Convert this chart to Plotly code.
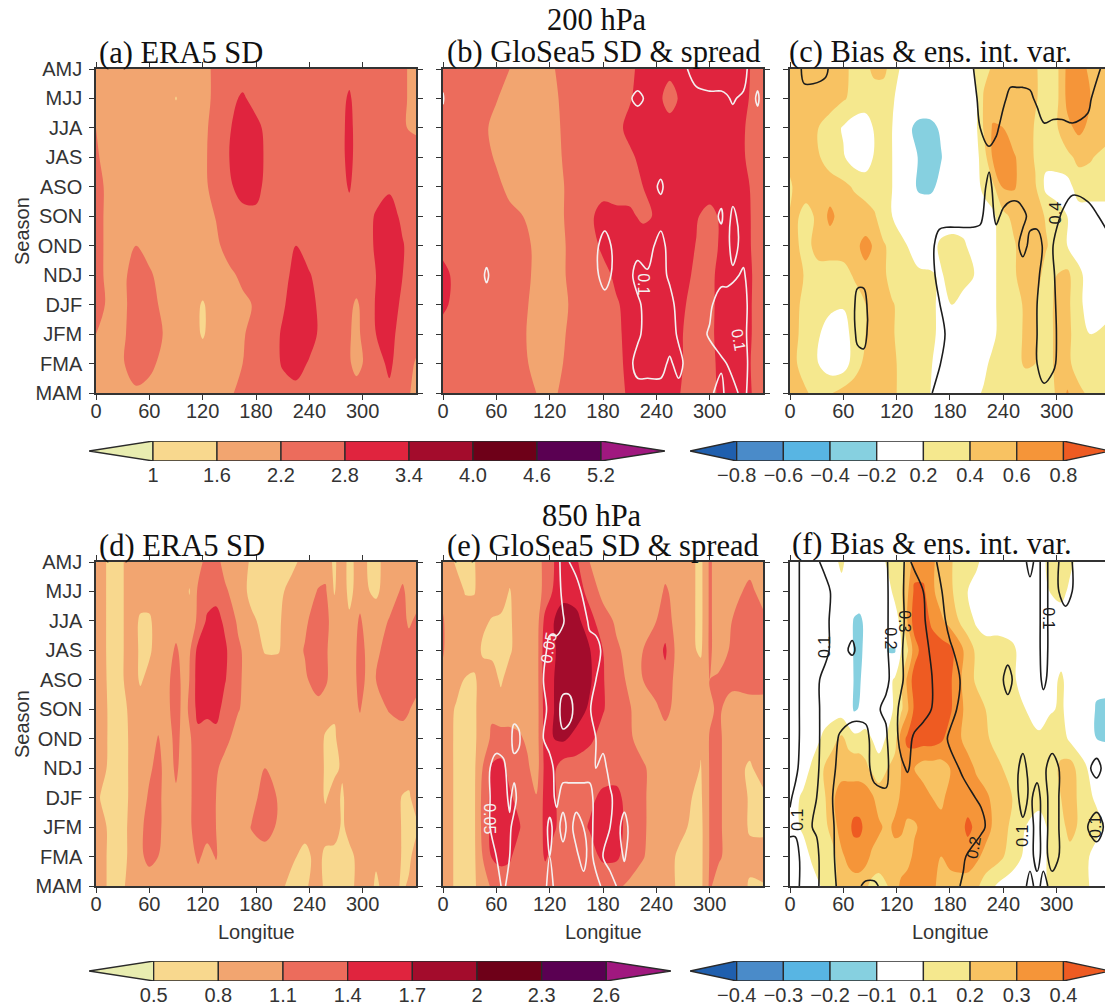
import plotly.graph_objects as go

seasons = ["AMJ","MJJ","JJA","JAS","ASO","SON","OND","NDJ","DJF","JFM","FMA","MAM"]
lon_ticks = [0,60,120,180,240,300]

levels_200_sd = ["1","1.6","2.2","2.8","3.4","4.0","4.6","5.2"]
levels_850_sd = ["0.5","0.8","1.1","1.4","1.7","2","2.3","2.6"]
levels_200_bias = ["−0.8","−0.6","−0.4","−0.2","0.2","0.4","0.6","0.8"]
levels_850_bias = ["−0.4","−0.3","−0.2","−0.1","0.1","0.2","0.3","0.4"]

sd_colors = ["#e8edb0","#f8d88e","#f2a570","#ec6c5c","#e0243e","#a30c2c","#6e0018","#5a0052","#a0187f"]
bias_colors = ["#1f5fae","#4a8bc9","#58b5e3","#86d0e0","#ffffff","#ffffff","#f5e88e","#f8c262","#f59539","#ee5b22"]

# (a) 200 hPa ERA5 SD
a_lon = [0,15,30,45,60,75,90,105,120,135,150,165,180,195,210,225,240,255,270,285,293,300,315,330,345,360]
a_z = [
[1.9,1.9,1.9,1.9,1.9,1.9,1.9,1.9,2.05,2.3,2.45,2.5,2.5,2.5,2.5,2.5,2.5,2.5,2.5,2.6,2.5,2.5,2.5,2.5,2.3,2.0],
[1.9,1.9,1.9,1.9,1.9,1.9,1.58,1.9,2.05,2.3,2.65,2.88,2.6,2.5,2.5,2.5,2.5,2.5,2.5,2.88,2.6,2.5,2.5,2.5,2.3,2.0],
[2.2,1.9,1.9,1.9,1.9,1.9,1.9,1.9,2.1,2.35,2.75,3.1,2.95,2.6,2.5,2.5,2.5,2.5,2.5,2.95,2.65,2.5,2.5,2.5,2.25,2.1],
[2.3,1.9,1.9,1.9,1.9,1.9,1.9,1.9,2.1,2.4,2.8,3.15,3.05,2.6,2.5,2.5,2.5,2.5,2.5,2.95,2.65,2.5,2.5,2.5,2.5,2.5],
[2.4,2.05,1.9,1.9,1.9,1.9,1.9,1.9,2.1,2.35,2.7,3.05,2.95,2.6,2.5,2.5,2.25,2.5,2.5,2.85,2.6,2.5,2.6,2.7,2.5,2.5],
[2.45,2.0,1.9,1.9,1.9,1.9,1.9,1.9,2.0,2.22,2.5,2.6,2.7,2.55,2.5,2.5,2.5,2.5,2.5,2.6,2.55,2.55,2.85,3.1,2.65,2.45],
[2.45,2.0,1.9,2.2,1.95,1.9,1.9,1.9,1.9,2.1,2.4,2.5,2.5,2.5,2.55,2.8,2.5,2.5,2.5,2.5,2.5,2.6,2.85,3.2,2.85,2.4],
[2.45,2.0,2.05,2.5,2.3,1.95,1.9,1.9,1.9,1.95,2.1,2.3,2.5,2.55,2.65,2.95,2.85,2.5,2.5,2.5,2.45,2.5,2.8,3.1,2.8,2.4],
[2.5,2.05,2.05,2.5,2.5,2.05,1.9,1.85,1.55,1.85,1.95,2.1,2.25,2.5,2.75,3.0,3.0,2.6,2.5,2.3,2.13,2.3,2.85,3.05,2.7,2.4],
[2.2,1.95,2.1,2.5,2.55,2.2,1.9,1.85,1.55,1.85,1.95,2.15,2.4,2.6,2.85,3.1,3.0,2.65,2.5,2.25,2.05,2.3,2.8,3.0,2.55,2.4],
[2.0,1.9,2.15,2.5,2.4,2.0,1.9,1.9,1.85,1.9,2.05,2.2,2.45,2.55,2.85,3.0,2.75,2.5,2.45,2.25,2.05,2.2,2.6,2.9,2.5,2.15],
[1.9,1.9,1.9,2.1,1.95,1.9,1.9,1.9,1.9,2.0,2.15,2.3,2.45,2.5,2.6,2.65,2.55,2.5,2.5,2.45,2.4,2.45,2.55,2.7,2.4,2.05],
]

# (b) 200 hPa GloSea5 SD
b_lon = [0,8,15,30,45,60,75,90,105,120,135,150,165,180,195,210,225,240,255,270,285,300,315,330,345,352,360]
b_z = [
[2.4,2.4,2.45,2.5,2.5,2.4,2.2,1.95,1.95,2.1,2.35,2.45,2.5,2.55,2.6,2.7,2.95,3.0,3.0,3.1,3.1,3.1,3.1,3.1,2.82,2.5,2.4],
[2.4,2.45,2.5,2.45,2.35,2.23,2.0,1.9,1.9,2.0,2.3,2.45,2.5,2.55,2.6,2.75,3.05,3.05,2.5,3.0,3.1,3.15,3.15,3.1,2.78,2.5,2.4],
[2.4,2.45,2.5,2.45,2.3,2.05,1.95,1.9,1.9,2.0,2.25,2.4,2.45,2.5,2.65,2.95,3.05,3.1,3.1,3.1,3.1,3.1,3.1,3.0,2.7,2.5,2.4],
[2.4,2.45,2.5,2.45,2.35,2.15,1.95,1.9,1.9,2.0,2.22,2.4,2.45,2.5,2.6,2.7,2.95,3.1,3.1,3.1,3.1,3.1,3.1,3.0,2.7,2.5,2.4],
[2.45,2.45,2.5,2.45,2.4,2.3,2.1,1.95,1.9,2.0,2.18,2.4,2.5,2.6,2.55,2.6,2.8,3.0,3.1,3.1,3.1,3.1,3.1,3.05,2.8,2.5,2.45],
[2.5,2.5,2.5,2.5,2.45,2.4,2.3,2.2,1.95,1.95,2.18,2.45,2.7,3.0,2.95,2.9,2.7,2.85,3.1,3.1,2.85,2.6,2.95,3.1,2.85,2.55,2.45],
[2.6,2.5,2.5,2.5,2.5,2.45,2.4,2.35,2.1,1.95,2.15,2.4,2.6,2.9,3.0,3.1,3.1,3.1,3.1,3.0,2.78,2.55,2.95,3.1,2.85,2.6,2.45],
[3.0,2.8,2.5,2.5,2.5,2.45,2.4,2.35,2.1,1.95,2.15,2.4,2.5,2.65,2.9,3.1,3.1,3.1,3.1,2.95,2.7,2.55,3.2,3.1,2.9,2.65,2.6],
[2.95,2.75,2.5,2.5,2.5,2.45,2.4,2.3,2.05,1.95,2.1,2.35,2.45,2.55,2.75,2.95,3.1,3.1,3.05,2.85,2.62,2.62,3.1,3.1,2.9,2.6,2.55],
[2.5,2.5,2.5,2.5,2.5,2.45,2.4,2.25,2.05,1.95,2.15,2.4,2.45,2.55,2.7,2.95,3.1,3.1,3.0,2.8,2.6,2.65,3.1,3.1,2.9,2.6,2.5],
[2.45,2.5,2.5,2.5,2.5,2.45,2.4,2.3,2.05,1.95,2.2,2.4,2.45,2.5,2.65,2.95,3.1,3.1,3.0,2.8,2.6,2.6,3.05,3.1,2.85,2.55,2.5],
[2.45,2.5,2.5,2.5,2.5,2.45,2.4,2.35,2.2,2.05,2.3,2.45,2.5,2.5,2.6,2.9,3.1,3.1,3.0,2.75,2.6,2.6,3.0,3.1,2.9,2.6,2.5],
]
b_spread_lon = [0,4,40,49,58,168,182,196,208,219,230,245,255,265,275,285,300,313,319,326,338,345,354,360]
b_spread = [
[.08,.08,.08,.08,.08,.08,.08,.08,.08,.08,.08,.08,.08,.08,.1,.13,.13,.13,.13,.13,.13,.08,.08,.08],
[.105,.08,.08,.08,.08,.08,.08,.08,.095,.107,.095,.08,.08,.08,.08,.08,.09,.09,.095,.105,.09,.08,.107,.08],
[.08,.08,.08,.08,.08,.08,.08,.08,.08,.08,.08,.08,.08,.08,.08,.08,.08,.08,.08,.08,.08,.08,.08,.08],
[.08,.08,.08,.08,.08,.08,.08,.08,.08,.08,.08,.08,.08,.08,.08,.08,.08,.08,.08,.08,.08,.08,.08,.08],
[.08,.08,.08,.08,.08,.08,.08,.08,.08,.08,.08,.107,.08,.08,.08,.08,.08,.08,.08,.08,.08,.08,.08,.08],
[.08,.08,.08,.08,.08,.08,.08,.08,.08,.08,.08,.08,.08,.08,.08,.08,.08,.107,.08,.11,.08,.08,.08,.08],
[.08,.08,.08,.08,.08,.08,.12,.08,.08,.08,.08,.12,.08,.08,.08,.08,.08,.08,.08,.12,.08,.08,.08,.08],
[.08,.08,.08,.107,.08,.08,.12,.08,.08,.12,.105,.12,.09,.08,.08,.08,.08,.08,.08,.09,.107,.08,.08,.08],
[.08,.08,.08,.08,.08,.08,.08,.08,.08,.09,.12,.13,.12,.08,.08,.08,.09,.13,.13,.13,.13,.08,.08,.08],
[.08,.08,.08,.08,.08,.08,.08,.08,.08,.09,.12,.13,.13,.09,.08,.08,.105,.13,.13,.13,.12,.08,.08,.08],
[.08,.08,.08,.08,.08,.08,.08,.08,.08,.12,.12,.12,.09,.12,.08,.08,.08,.09,.1,.12,.12,.09,.08,.08],
[.08,.08,.08,.08,.08,.08,.08,.08,.08,.08,.08,.08,.08,.08,.08,.08,.09,.12,.08,.08,.12,.08,.08,.08],
]

# (c) 200 hPa bias
c_lon = [0,8,18,32,45,60,72,85,95,105,115,130,145,158,170,182,195,207,218,228,240,252,265,276,288,300,312,325,338,360]
c_z = [
[.5,.5,.5,.5,.5,.45,.35,.35,.45,.45,.32,.1,.05,.05,.05,.05,.1,.2,.35,.42,.5,.5,.5,.42,.32,.35,.65,.7,.55,.5],
[.5,.5,.5,.5,.5,.42,.35,.3,.3,.3,.22,.1,.05,.05,.05,.05,.05,.1,.42,.5,.5,.5,.5,.42,.32,.35,.65,.7,.6,.5],
[.5,.5,.5,.4,.3,.18,.1,.1,.22,.3,.2,-.1,-.3,-.3,-.15,.05,.05,.1,.42,.62,.6,.5,.5,.38,.3,.38,.55,.65,.55,.5],
[.5,.5,.5,.42,.3,.22,.1,.1,.22,.3,.2,0,-.22,-.3,-.22,.05,.05,.1,.3,.62,.72,.62,.5,.38,.25,.3,.35,.45,.42,.3],
[.35,.5,.5,.5,.5,.45,.38,.3,.3,.28,.2,0,-.25,-.28,-.1,.05,.05,.1,.25,.35,.62,.62,.5,.42,.15,.1,.12,.3,.3,.3],
[.42,.42,.32,.45,.65,.5,.5,.5,.42,.3,.2,.05,0,.05,.05,.05,.05,.05,.1,.15,.35,.45,.5,.5,.38,.3,.2,.1,.1,.1],
[.45,.42,.32,.5,.5,.5,.55,.65,.58,.42,.35,.22,.05,.1,.25,.3,.25,.08,.1,.15,.3,.38,.5,.5,.42,.3,.2,.1,.1,.1],
[.45,.45,.38,.3,.3,.32,.42,.55,.5,.45,.3,.3,.25,.22,.18,.28,.3,.2,.1,.15,.3,.38,.48,.5,.32,.4,.45,.25,.1,.1],
[.45,.42,.35,.3,.25,.22,.3,.4,.45,.5,.42,.3,.3,.25,.15,.2,.1,.1,.1,.15,.3,.35,.42,.42,.3,.45,.45,.25,.1,.1],
[.45,.42,.3,.22,.1,.1,.28,.4,.5,.5,.42,.3,.3,.25,.15,.1,.1,.1,.1,.15,.3,.35,.42,.42,.3,.45,.45,.3,.2,.3],
[.42,.4,.3,.2,.08,.08,.3,.45,.5,.5,.45,.3,.3,.22,.1,.1,.1,.1,.15,.25,.3,.35,.42,.4,.3,.45,.45,.3,.3,.3],
[.5,.5,.42,.32,.38,.48,.5,.5,.5,.5,.45,.3,.3,.2,.1,.1,.1,.15,.22,.28,.3,.3,.3,.3,.3,.42,.62,.45,.35,.3],
]
c_var_lon = [0,10,16,26,40,50,70,76,83,90,150,160,168,176,190,205,214,224,232,240,248,256,262,270,278,286,296,306,318,335,347,360]
c_var = [
[.35,.36,.45,.45,.42,.35,.35,.35,.35,.35,.35,.35,.35,.35,.35,.39,.45,.45,.45,.45,.45,.45,.45,.45,.45,.45,.45,.45,.45,.45,.41,.35],
[.35,.35,.35,.35,.35,.35,.35,.35,.35,.35,.35,.35,.35,.35,.35,.37,.42,.45,.45,.42,.37,.37,.37,.38,.42,.45,.45,.45,.45,.42,.36,.35],
[.35,.35,.35,.35,.35,.35,.35,.35,.35,.35,.35,.35,.35,.35,.35,.35,.4,.45,.42,.36,.35,.35,.35,.35,.35,.39,.38,.38,.39,.38,.35,.35],
[.35,.35,.35,.35,.35,.35,.35,.35,.35,.35,.35,.35,.35,.35,.35,.35,.35,.37,.35,.35,.35,.35,.35,.35,.35,.35,.35,.35,.35,.35,.35,.35],
[.35,.35,.35,.35,.35,.35,.35,.35,.35,.35,.35,.35,.35,.35,.35,.35,.35,.43,.35,.35,.35,.35,.35,.35,.35,.35,.35,.35,.38,.35,.35,.35],
[.35,.35,.35,.35,.35,.35,.35,.35,.35,.35,.35,.35,.36,.37,.37,.37,.38,.45,.38,.42,.45,.45,.42,.38,.36,.36,.36,.41,.45,.45,.4,.36],
[.35,.35,.35,.35,.35,.35,.35,.35,.35,.35,.35,.38,.45,.45,.45,.45,.45,.45,.45,.45,.45,.41,.37,.42,.45,.38,.4,.45,.45,.45,.45,.42],
[.35,.35,.35,.35,.35,.35,.35,.36,.36,.35,.35,.38,.43,.45,.45,.45,.45,.45,.45,.45,.45,.45,.45,.45,.42,.36,.39,.45,.45,.45,.45,.45],
[.35,.35,.35,.35,.35,.35,.35,.45,.45,.35,.35,.35,.395,.45,.45,.45,.45,.45,.45,.45,.45,.45,.45,.45,.4,.35,.38,.45,.45,.45,.45,.45],
[.35,.35,.35,.35,.35,.35,.35,.43,.45,.35,.35,.35,.36,.41,.45,.45,.45,.45,.45,.45,.45,.45,.45,.45,.4,.35,.37,.45,.45,.45,.45,.45],
[.35,.35,.35,.35,.35,.35,.35,.35,.35,.35,.35,.35,.39,.45,.45,.45,.45,.45,.45,.45,.45,.45,.45,.45,.4,.36,.38,.45,.45,.45,.45,.45],
[.35,.35,.35,.35,.35,.35,.35,.35,.35,.35,.36,.4,.45,.45,.45,.45,.45,.45,.45,.45,.45,.45,.45,.45,.45,.42,.45,.45,.45,.45,.45,.45],
]

# (d) 850 hPa ERA5 SD
d_lon = [0,6,15,30,40,50,60,70,80,90,100,105,115,125,135,145,160,175,190,205,220,235,250,258,268,277,285,297,305,315,330,345,352,360]
d_z = [
[.95,.95,.7,.78,.95,.95,.95,.95,.95,.95,.95,.95,1.0,1.2,1.2,1.0,.95,.76,.7,.7,.72,.9,.95,.95,.75,.95,.7,.95,.8,.72,.95,.95,.95,.95],
[.95,.95,.7,.78,.95,.95,.95,.95,.95,.95,.95,.78,1.15,1.25,1.3,1.15,.95,.72,.7,.72,.9,.95,1.12,1.15,.78,.95,.72,.95,.82,.75,.95,1.15,1.0,.95],
[.95,.95,.7,.78,.95,.75,.75,.95,.95,.95,.95,.95,1.15,1.45,1.5,1.35,1.05,.85,.72,.76,.95,1.05,1.25,1.2,.95,.95,.85,1.15,.95,.95,1.12,1.2,1.05,1.15],
[1.0,.95,.7,.78,.95,.75,.75,.95,.95,1.15,.95,1.05,1.5,1.6,1.6,1.45,1.15,.95,.78,.78,.95,1.12,1.25,1.15,.95,.95,.9,1.2,1.05,1.05,1.2,1.25,1.25,1.2],
[.95,.95,.72,.78,.95,.76,.9,.95,1.05,1.2,1.0,1.1,1.55,1.6,1.6,1.42,1.15,.95,.95,.95,.95,1.05,1.25,1.15,.95,.95,.9,1.2,1.05,1.1,1.25,1.25,1.25,1.25],
[.95,.95,.75,.75,.85,.95,.95,.95,1.05,1.2,1.0,1.15,1.5,1.45,1.5,1.3,1.12,.95,.95,.95,.95,.95,.98,.95,.85,.95,.95,1.12,.95,1.0,1.12,1.2,1.12,1.0],
[.95,.95,.75,.72,.85,.95,.95,1.12,.95,1.2,.95,1.05,1.3,1.3,1.3,1.2,.95,.95,.95,.95,.95,.95,.95,.76,.75,.95,.95,.95,.95,.95,.95,.95,.95,.95],
[.95,.95,.72,.72,.85,.95,1.05,1.2,.95,1.15,.95,1.05,1.25,1.25,1.15,.98,.95,.95,1.1,.98,.95,.95,.95,.76,.72,.85,.95,.95,.95,.95,.95,.95,.95,.95],
[.95,.75,.72,.72,.85,.95,1.15,1.18,.95,1.05,.95,1.05,1.25,1.22,1.1,.95,.95,.98,1.25,1.08,.95,.95,.95,.76,.95,.75,.95,.95,.95,.95,.95,.78,.75,.95],
[.95,.95,.72,.75,.85,1.05,1.2,1.18,.95,.95,.95,1.05,1.25,1.22,1.1,.95,.95,1.12,1.25,1.05,.95,.9,.85,.95,.95,.75,.9,.95,.95,.95,.95,.78,.72,.72],
[.95,.95,.72,.75,.85,1.05,1.18,1.1,.95,.95,.95,.98,1.15,1.0,1.12,.95,.95,.95,.95,.95,.85,.72,.9,.72,.7,.7,.72,.9,.95,.85,.95,.78,.72,.95],
[.95,.95,.72,.75,.95,.95,.95,.95,.95,.95,.95,.95,.95,.95,.95,.95,.95,.95,.95,.88,.72,.75,.95,.72,.7,.7,.72,.9,.95,.75,.95,.75,.85,.95],
]

# (e) 850 hPa GloSea5 SD
e_lon = [0,5,15,25,35,45,55,65,75,85,95,105,115,125,135,150,165,180,195,210,225,240,250,265,280,290,300,310,325,345,360]
e_z = [
[.95,.95,.75,.7,.78,.95,.95,.95,.95,.95,.95,.95,1.2,1.4,1.55,1.45,1.1,.95,.95,.95,.95,.95,.95,.95,.85,.72,1.15,.95,.95,.95,.95],
[.95,.95,.95,.78,.78,.95,.95,.95,.78,.95,.95,.95,1.2,1.45,1.6,1.55,1.3,1.0,.95,.95,.95,.95,1.15,.95,.85,.72,1.15,.95,.95,1.2,.95],
[1.15,.95,.95,.95,.95,.85,.78,.75,.75,.95,.95,.95,1.5,1.7,1.85,1.8,1.5,1.25,1.05,.95,.95,1.1,1.25,.95,.85,.72,1.15,.95,1.1,1.25,1.2],
[1.15,.95,.95,.95,.95,.75,.72,.72,.75,.95,.95,.95,1.6,1.65,1.9,1.9,1.72,1.4,1.15,1.0,1.1,1.25,1.45,.95,.85,.75,1.15,.95,1.15,1.25,1.25],
[.95,.95,.95,.78,.75,.95,.95,.75,.95,.95,.95,.95,1.6,1.7,1.9,1.95,1.75,1.42,1.2,1.05,1.1,1.25,1.3,.95,.95,.95,1.1,1.15,1.2,1.25,1.25],
[.95,.95,.75,.72,.75,.95,1.05,.95,.95,.95,.95,.95,1.55,1.7,1.85,1.85,1.65,1.42,1.25,1.12,.95,1.05,1.2,.95,.95,.95,1.05,1.15,.95,.95,.95],
[.95,.95,.72,.7,.75,.95,1.15,1.2,1.2,1.15,1.05,.95,1.55,1.7,1.75,1.6,1.45,1.3,1.25,1.15,.95,.95,.95,.95,.95,.85,1.12,1.15,.95,.95,.95],
[.95,.95,.72,.7,.75,1.12,1.45,1.5,1.3,1.2,1.15,.95,1.5,1.45,1.25,1.25,1.25,1.3,1.25,1.2,1.15,.95,.95,.95,.95,.78,1.12,1.15,.95,.75,.95],
[.95,.95,.72,.7,.75,1.2,1.5,1.55,1.45,1.3,1.2,1.12,1.5,1.45,1.25,1.25,1.35,1.45,1.5,1.25,1.15,.95,.95,.95,.8,.75,1.12,1.15,.95,.78,.72],
[.95,.95,.72,.7,.75,1.2,1.5,1.6,1.55,1.45,1.2,1.15,1.5,1.45,1.25,1.3,1.42,1.55,1.5,1.3,1.15,.95,.95,.9,.75,.72,1.12,1.15,.95,.78,.72],
[.95,.95,.72,.7,.75,1.12,1.42,1.5,1.45,1.25,1.2,1.15,1.45,1.25,1.25,1.25,1.3,1.45,1.45,1.25,1.12,.95,.95,.75,.72,.72,1.12,1.15,.95,.85,.95],
[.95,.95,.72,.7,.76,.95,1.15,1.2,1.2,1.2,1.2,1.15,1.15,1.15,1.15,1.15,1.15,1.2,1.15,1.05,.95,.95,.95,.75,.72,.72,1.15,.95,.95,.78,.78],
]
e_spread_lon = [0,45,53,60,68,75,80,85,90,105,113,120,128,135,142,150,158,165,172,180,188,195,204,212,360]
e_spread = [
[.04,.04,.04,.04,.04,.04,.04,.04,.04,.04,.04,.04,.04,.06,.05,.04,.04,.04,.04,.04,.04,.04,.04,.04,.04],
[.04,.04,.04,.04,.04,.04,.04,.04,.04,.04,.04,.04,.04,.055,.06,.06,.045,.04,.04,.04,.04,.04,.04,.04,.04],
[.04,.04,.04,.04,.04,.04,.04,.04,.04,.04,.04,.04,.04,.048,.06,.06,.06,.045,.04,.04,.04,.04,.04,.04,.04],
[.04,.04,.04,.04,.04,.04,.04,.04,.04,.04,.04,.06,.06,.06,.06,.06,.06,.06,.06,.045,.04,.04,.04,.04,.04],
[.04,.04,.04,.04,.04,.04,.04,.04,.04,.04,.05,.06,.06,.06,.06,.06,.06,.06,.05,.04,.04,.04,.04,.04,.04],
[.04,.04,.04,.04,.04,.04,.04,.04,.04,.04,.04,.06,.06,.04,.04,.06,.06,.052,.04,.04,.04,.04,.04,.04,.04],
[.04,.04,.04,.04,.04,.04,.06,.055,.04,.04,.05,.06,.06,.055,.06,.06,.06,.06,.05,.04,.04,.04,.04,.04,.04],
[.04,.04,.05,.06,.055,.04,.04,.04,.04,.04,.04,.04,.06,.06,.06,.06,.06,.06,.05,.06,.04,.04,.04,.04,.04],
[.04,.04,.05,.06,.06,.045,.06,.04,.04,.04,.04,.04,.055,.04,.04,.04,.04,.04,.06,.06,.055,.04,.04,.04,.04],
[.04,.04,.05,.06,.06,.055,.04,.04,.04,.04,.04,.055,.04,.06,.04,.06,.05,.04,.06,.06,.05,.04,.06,.04,.04],
[.04,.04,.04,.05,.06,.05,.04,.04,.04,.04,.04,.05,.04,.04,.04,.045,.06,.04,.06,.05,.04,.04,.052,.04,.04],
[.04,.04,.04,.04,.055,.04,.04,.04,.04,.04,.04,.06,.04,.04,.04,.04,.04,.04,.04,.055,.06,.05,.04,.04,.04],
]

# (f) 850 hPa bias
f_lon = [0,15,25,38,48,58,66,72,78,85,92,100,110,118,125,132,140,150,160,170,180,190,200,210,220,235,250,265,280,292,305,315,330,345,360]
f_z = [
[.05,.05,.05,.05,.05,.13,.05,.05,.05,.05,.05,.05,.12,.15,.15,.22,.35,.35,.32,.25,.22,.15,.14,.12,.05,.05,.05,.05,.05,.13,.15,.12,.05,.05,.05],
[.05,.05,.05,.05,.05,.05,.05,.05,.05,.05,.05,.05,.06,.13,.18,.28,.42,.42,.32,.25,.22,.16,.1,.05,.05,.05,.05,.05,.05,.1,.13,.08,.05,.05,.05],
[.05,.05,.05,.05,.05,.05,0,-.12,-.15,-.05,.05,.05,.05,.05,.13,.3,.45,.45,.38,.32,.26,.2,.15,.08,.05,.05,.05,.05,.05,.05,.05,.05,.05,.05,.05],
[.05,.05,.05,.05,.05,.05,0,-.12,-.15,-.05,.05,.05,-.11,-.12,.1,.18,.35,.45,.45,.45,.43,.35,.25,.18,.15,.15,.12,.05,.05,.05,.05,.05,.05,.05,.05],
[.05,.05,.05,.05,.05,.05,0,-.11,-.13,0,.05,.05,.05,.12,.18,.32,.45,.45,.45,.45,.42,.32,.25,.18,.15,.18,.12,.05,.05,.05,.12,.05,.05,-.05,-.02],
[.05,.05,.05,.05,.05,.05,0,-.12,-.09,0,.05,.05,.05,.12,.18,.28,.42,.45,.45,.45,.42,.32,.28,.25,.2,.15,.15,.1,.05,.08,.12,.05,.05,-.12,-.15],
[.05,.05,.05,.12,.17,.22,.17,.15,.15,.15,.1,.05,.12,.15,.35,.42,.45,.45,.45,.42,.35,.32,.25,.25,.22,.15,.15,.1,.12,.18,.15,.08,.05,-.1,-.12],
[.05,.05,.12,.2,.25,.25,.25,.25,.25,.22,.18,.15,.2,.25,.3,.35,.3,.25,.25,.25,.3,.35,.35,.28,.25,.22,.15,.1,.12,.15,.22,.25,.12,.05,.05],
[.05,.12,.12,.18,.28,.36,.36,.36,.36,.36,.32,.25,.25,.25,.32,.35,.38,.35,.3,.28,.33,.36,.36,.36,.32,.25,.2,.15,.14,.15,.2,.25,.15,.08,.05],
[.05,.12,.12,.16,.25,.35,.38,.42,.42,.38,.36,.32,.27,.33,.32,.28,.28,.34,.36,.33,.34,.36,.42,.38,.34,.25,.18,.1,.05,.12,.15,.25,.15,.14,.05],
[.05,.05,.12,.14,.16,.28,.33,.36,.36,.34,.28,.25,.25,.25,.25,.25,.33,.36,.34,.3,.34,.36,.36,.32,.27,.23,.15,.08,.05,.12,.15,.15,.14,.05,.05],
[.05,.05,.05,.12,.16,.25,.25,.25,.25,.22,.17,.16,.2,.26,.32,.36,.36,.36,.32,.27,.25,.25,.25,.22,.15,.08,.05,.05,.05,.12,.15,.15,.14,.05,.05],
]
f_var_lon = [0,6,15,30,40,48,56,70,85,95,108,115,125,132,140,150,165,180,195,215,235,245,255,262,270,278,285,295,310,325,345,360]
f_var = [
[.12,.12,.08,.09,.12,.14,.15,.15,.15,.16,.19,.23,.28,.32,.28,.24,.2,.17,.15,.14,.13,.12,.12,.12,.08,.12,.08,.12,.08,.12,.13,.13],
[.12,.12,.08,.08,.08,.11,.14,.15,.15,.16,.19,.22,.28,.33,.35,.3,.22,.17,.15,.14,.13,.12,.12,.12,.12,.12,.08,.12,.08,.12,.13,.13],
[.12,.12,.08,.08,.085,.115,.12,.12,.14,.16,.19,.22,.27,.33,.36,.31,.24,.18,.15,.14,.13,.12,.12,.12,.12,.12,.08,.12,.12,.12,.13,.13],
[.12,.12,.08,.08,.085,.115,.12,.09,.14,.16,.19,.22,.29,.33,.35,.33,.26,.21,.17,.14,.13,.12,.12,.12,.12,.12,.08,.12,.12,.12,.13,.13],
[.12,.12,.08,.09,.12,.13,.14,.15,.16,.18,.19,.21,.28,.34,.36,.34,.28,.23,.19,.14,.12,.08,.12,.12,.12,.12,.09,.12,.12,.12,.13,.13],
[.12,.12,.08,.09,.12,.14,.16,.17,.18,.19,.21,.24,.33,.36,.37,.33,.28,.22,.18,.14,.13,.12,.12,.12,.12,.12,.12,.12,.12,.12,.13,.13],
[.12,.12,.08,.09,.12,.17,.21,.24,.22,.17,.19,.24,.33,.34,.28,.26,.24,.19,.16,.14,.13,.12,.12,.12,.12,.12,.12,.12,.12,.12,.12,.12],
[.12,.11,.08,.09,.13,.18,.23,.24,.22,.18,.18,.23,.28,.31,.27,.25,.24,.22,.19,.16,.13,.12,.11,.08,.12,.12,.11,.08,.12,.12,.09,.12],
[.105,.09,.08,.1,.14,.2,.23,.24,.24,.22,.21,.22,.23,.24,.25,.25,.24,.23,.22,.19,.13,.12,.11,.08,.11,.08,.12,.08,.12,.12,.12,.12],
[.09,.09,.09,.105,.15,.19,.24,.25,.25,.25,.25,.25,.24,.24,.25,.25,.25,.25,.24,.22,.13,.12,.12,.11,.12,.08,.12,.08,.12,.12,.08,.12],
[.12,.12,.08,.09,.13,.19,.23,.25,.25,.25,.25,.25,.25,.25,.25,.25,.24,.23,.21,.14,.13,.12,.12,.12,.12,.08,.12,.08,.12,.12,.12,.12],
[.12,.12,.08,.09,.13,.18,.22,.22,.19,.19,.22,.24,.25,.25,.25,.25,.24,.23,.19,.14,.13,.12,.12,.12,.08,.12,.08,.12,.12,.12,.12,.12],
]

W, H = 1105, 1006
def px_x(x): return x / W
def px_y(y): return 1 - y / H

axis_font = dict(family="Liberation Sans, Arial, sans-serif", size=20, color="#333333")
serif = "Liberation Serif, Times New Roman, serif"

panels = [
    dict(x0=96,  x1=416,  y0=69,  y1=393, xmax=360,   lon=a_lon, z=a_z, kind="sd",   start=1.0, end=5.2, size=.6, left=True,  bottom=False),
    dict(x0=443, x1=763,  y0=69,  y1=393, xmax=360,   lon=b_lon, z=b_z, kind="sd",   start=1.0, end=5.2, size=.6, left=False, bottom=False),
    dict(x0=790, x1=1105, y0=69,  y1=393, xmax=354.4, lon=c_lon, z=c_z, kind="bias", start=-.8, end=.8,  size=.2, left=False, bottom=False),
    dict(x0=96,  x1=416,  y0=562, y1=886, xmax=360,   lon=d_lon, z=d_z, kind="sd",   start=.5,  end=2.6, size=.3, left=True,  bottom=True),
    dict(x0=443, x1=763,  y0=562, y1=886, xmax=360,   lon=e_lon, z=e_z, kind="sd",   start=.5,  end=2.6, size=.3, left=False, bottom=True),
    dict(x0=790, x1=1105, y0=562, y1=886, xmax=354.4, lon=f_lon, z=f_z, kind="bias", start=-.4, end=.4,  size=.1, left=False, bottom=True),
]
overlays = [
    (2, b_spread_lon, b_spread, "#f4f0f0", .1, .1, 1),
    (3, c_var_lon, c_var, "#1c1c1c", .4, .4, 1),
    (5, e_spread_lon, e_spread, "#f4f0f0", .05, .05, 1),
    (6, f_var_lon, f_var, "#1c1c1c", .1, .3, .1),
]

fig = go.Figure()
layout = {}
annotations = []

def scale(colors):
    n = len(colors) - 1
    return [[i / n, c] for i, c in enumerate(colors)]

for i, p in enumerate(panels, start=1):
    colors = sd_colors if p["kind"] == "sd" else bias_colors
    fig.add_trace(go.Contour(
        x=p["lon"], y=list(range(12)), z=p["z"], xaxis=f"x{i}", yaxis=f"y{i}",
        autocontour=False, contours=dict(coloring="fill", start=p["start"], end=p["end"], size=p["size"]),
        colorscale=scale(colors), showscale=False, line=dict(width=0, smoothing=1), hoverinfo="skip"))
    clipped = p["xmax"] < 360
    layout[f"xaxis{i}"] = dict(domain=[px_x(p["x0"]), px_x(p["x1"])], range=[0, p["xmax"]], anchor=f"y{i}",
        tickvals=lon_ticks, ticks="outside", ticklen=5, tickwidth=1, tickcolor="#333", showline=True, linecolor="#333",
        linewidth=1.5, mirror="ticks", showgrid=False, zeroline=False, tickfont=axis_font, ticklabelstandoff=-6)
    layout[f"yaxis{i}"] = dict(domain=[px_y(p["y1"]), px_y(p["y0"])], range=[11, 0], anchor=f"x{i}",
        tickvals=list(range(12)), ticktext=seasons if p["left"] else [""]*12, ticks="outside", ticklen=5, tickwidth=1,
        tickcolor="#333", showline=True, linecolor="#333", linewidth=1.5, mirror=False if clipped else "ticks",
        showgrid=False, zeroline=False, tickfont=axis_font, ticklabelstandoff=3)
    if p["left"]:
        annotations.append(dict(text="Season", x=px_x(22), y=px_y((p["y0"]+p["y1"])/2), xref="paper", yref="paper",
            xanchor="center", yanchor="middle", textangle=-90, showarrow=False, font=axis_font))
    if p["bottom"]:
        annotations.append(dict(text="Longitue", x=px_x(p["x0"]+160), y=px_y(932), xref="paper", yref="paper",
            xanchor="center", yanchor="middle", showarrow=False, font=axis_font))

for idx, lon, z, col, s, e, size in overlays:
    fig.add_trace(go.Contour(
        x=lon, y=list(range(12)), z=z, xaxis=f"x{idx}", yaxis=f"y{idx}", autocontour=False,
        contours=dict(coloring="none", start=s, end=e, size=size, showlabels=False),
        line=dict(color=col, width=1.6, smoothing=1), showscale=False, hoverinfo="skip"))

# colour bars
bars = [
    (1, levels_200_sd,   sd_colors,   89,  665,  441, 461, 8),
    (2, levels_200_bias, bias_colors, 690, 1105, 441, 461, 7.89),
    (3, levels_850_sd,   sd_colors,   89,  671,  961, 981, 8),
    (4, levels_850_bias, bias_colors, 690, 1105, 961, 981, 7.89),
]
for j, (b, labels, colors, x0, x1, y0, y1, xhi) in enumerate(bars):
    ax = 7 + j
    seg = colors if colors is sd_colors else colors[:4] + colors[5:]
    n = len(labels)
    for k, c in enumerate(seg):
        if k == 0:
            xs, ys = [-1, 0, 0, -1], [.5, 0, 1, .5]
        elif k == n:
            xs, ys = [n-1, n, n-1, n-1], [0, .5, 1, 0]
        else:
            xs, ys = [k-1, k, k, k-1, k-1], [0, 0, 1, 1, 0]
        fig.add_trace(go.Scatter(x=xs, y=ys, mode="lines", fill="toself", fillcolor=c, xaxis=f"x{ax}", yaxis=f"y{ax}",
            line=dict(color="#2a2a2a", width=1.3), hoverinfo="skip", showlegend=False))
    layout[f"xaxis{ax}"] = dict(domain=[px_x(x0), px_x(x1)], range=[-1, xhi], anchor=f"y{ax}", tickvals=list(range(n)),
        ticktext=labels, ticks="", showgrid=False, zeroline=False, showline=False, tickfont=axis_font, ticklabelstandoff=0)
    layout[f"yaxis{ax}"] = dict(domain=[px_y(y1), px_y(y0)], range=[0, 1], anchor=f"x{ax}", visible=False)

# titles
titles = [("200 hPa", 597, 20, "center"), ("850 hPa", 592, 516, "center"),
          ("(a) ERA5 SD", 97, 53, "left"), ("(b) GloSea5 SD & spread", 445, 52, "left"), ("(c) Bias & ens. int. var.", 787, 52, "left"),
          ("(d) ERA5 SD", 97, 546, "left"), ("(e) GloSea5 SD & spread", 445, 546, "left"), ("(f) Bias & ens. int. var.", 790, 544, "left")]
for t, x, y, al in titles:
    annotations.append(dict(text=t, x=px_x(x), y=px_y(y), xref="paper", yref="paper", xanchor=al, yanchor="middle", showarrow=False,
        font=dict(family=serif, size=30.5, color="#111")))

# contour labels: (panel, text, lon, season index, angle, colour)
contour_labels = [
    (2,"0.1",226,7.3,90,"#f4f0f0"),(2,"0.1",332,9.2,80,"#f4f0f0"),
    (3,"0.4",298,4.9,-90,"#1c1c1c"),
    (5,"0.05",119,2.9,-80,"#f4f0f0"),(5,"0.05",53,8.7,90,"#f4f0f0"),
    (6,"0.1",9,8.75,-90,"#1c1c1c"),(6,"0.1",39,2.9,-90,"#1c1c1c"),(6,"0.1",290,1.9,90,"#1c1c1c"),
    (6,"0.1",262,9.3,-90,"#1c1c1c"),(6,"0.1",343,9.0,-90,"#1c1c1c"),
    (6,"0.2",113,2.6,90,"#1c1c1c"),(6,"0.3",128,2.0,90,"#1c1c1c"),(6,"0.2",207,9.7,-80,"#1c1c1c"),
]
for pi, t, lo, r, ang, col in contour_labels:
    annotations.append(dict(text=t, x=lo, y=r, xref=f"x{pi}", yref=f"y{pi}", showarrow=False, textangle=ang,
        font=dict(family="Liberation Sans, Arial, sans-serif", size=16, color=col)))

fig.update_layout(width=W, height=H, margin=dict(l=0, r=0, t=0, b=0, autoexpand=False), autosize=False, showlegend=False,
    paper_bgcolor="white", plot_bgcolor="white", annotations=annotations, **layout)
fig.write_html("out.html", config=dict(displayModeBar=False, responsive=False),
    post_script="document.body.style.margin='0';document.documentElement.style.overflow='hidden';")
